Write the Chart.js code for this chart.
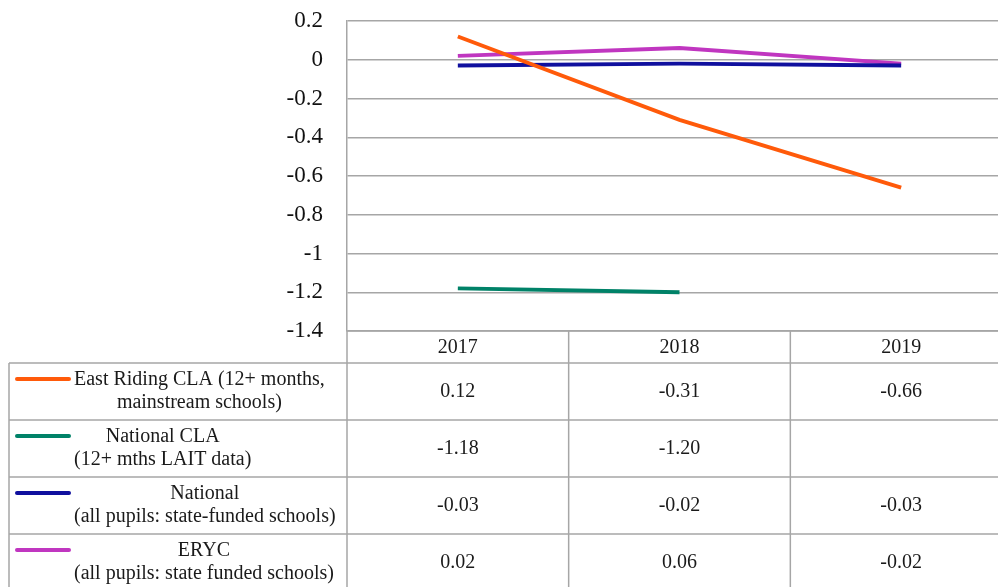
<!DOCTYPE html>
<html>
<head>
<meta charset="utf-8">
<script src="https://cdn.jsdelivr.net/npm/chart.js@4/dist/chart.umd.min.js"></script>
<style>
  html, body { margin: 0; padding: 0; background: #fff; overflow: hidden; }
  #wrap { width: 998px; height: 587px; overflow: hidden; position: relative; }
  canvas { display: block; }
</style>
</head>
<body>
<div id="wrap"><canvas id="chart" width="1012" height="587" style="width:1012px;height:587px"></canvas></div>
<script>
// Years along the category axis
const years = ['2017', '2018', '2019'];

// Series values (null = no figure published)
const eastRidingCla = [0.12, -0.31, -0.66];
const nationalCla   = [-1.18, -1.20, null];
const nationalAll   = [-0.03, -0.02, -0.03];
const erycAll       = [0.02, 0.06, -0.02];

// Series names as printed in the data table (one entry per wrapped line)
const eastRidingLabel = ['East Riding CLA (12+ months,', 'mainstream schools)'];
const nationalClaLabel = ['National CLA', '(12+ mths LAIT data)'];
const nationalLabel = ['National', '(all pupils: state-funded schools)'];
const erycLabel = ['ERYC', '(all pupils: state funded schools)'];

// Value axis ticks
const yMin = -1.4, yMax = 0.2, yStep = 0.2;

const FONT = '"Liberation Serif", "DejaVu Serif", serif';
const GRID = '#a6a6a6';

const seriesDefs = [
  { data: eastRidingCla, label: eastRidingLabel, color: '#ff5a0a' },
  { data: nationalCla,   label: nationalClaLabel, color: '#008268' },
  { data: nationalAll,   label: nationalLabel,    color: '#10109e' },
  { data: erycAll,       label: erycLabel,        color: '#c036c0' }
];

// Data table drawn beneath the plot, aligned with the category columns
const dataTable = {
  id: 'dataTable',
  afterDraw(chart) {
    const { ctx, chartArea: a, scales: { x } } = chart;
    const n = years.length;
    const colW = (a.right - a.left) / n;
    const headTop = a.bottom;
    const headBot = headTop + 32;
    const rowH = 57;
    const tableLeft = 9;
    const tableBot = headBot + rowH * seriesDefs.length;

    ctx.save();
    ctx.strokeStyle = GRID;
    ctx.lineWidth = 1.5;

    const hline = (x1, x2, y) => { ctx.beginPath(); ctx.moveTo(x1, y); ctx.lineTo(x2, y); ctx.stroke(); };
    const vline = (xx, y1, y2) => { ctx.beginPath(); ctx.moveTo(xx, y1); ctx.lineTo(xx, y2); ctx.stroke(); };

    // horizontal rules
    hline(a.left, a.right, headTop);
    for (let r = 0; r <= seriesDefs.length; r++) {
      hline(tableLeft, a.right, headBot + r * rowH);
    }
    // vertical rules
    vline(tableLeft, headBot, tableBot);
    for (let c = 0; c <= n; c++) {
      vline(a.left + c * colW, headTop, tableBot);
    }

    ctx.fillStyle = '#1a1a1a';
    ctx.textAlign = 'center';
    ctx.textBaseline = 'middle';
    ctx.font = '20px ' + FONT;

    // header
    years.forEach((yr, i) => {
      ctx.fillText(yr, x.getPixelForValue(i), (headTop + headBot) / 2 + 1);
    });

    // rows
    seriesDefs.forEach((s, r) => {
      const top = headBot + r * rowH;
      // legend key
      ctx.strokeStyle = s.color;
      ctx.lineWidth = 4;
      ctx.lineCap = 'round';
      hline(17, 69, top + 16);
      ctx.lineCap = 'butt';

      // wrapped name, lines centred on the widest line
      const widths = s.label.map(t => ctx.measureText(t).width);
      const blockW = Math.max(...widths);
      const cx = 74 + blockW / 2;
      s.label.forEach((t, k) => {
        ctx.fillText(t, cx, top + 17 + k * 23);
      });

      // values
      s.data.forEach((v, i) => {
        if (v === null) return;
        ctx.fillText(v.toFixed(2), x.getPixelForValue(i), top + 29);
      });
    });
    ctx.restore();
  }
};

new Chart(document.getElementById('chart'), {
  type: 'line',
  data: {
    labels: years,
    datasets: seriesDefs.map(s => ({
      label: s.label.join(' '),
      data: s.data,
      borderColor: s.color,
      backgroundColor: s.color,
      borderWidth: 4,
      pointRadius: 0,
      pointHoverRadius: 0,
      tension: 0,
      spanGaps: false,
      fill: false
    }))
  },
  options: {
    responsive: false,
    animation: false,
    events: [],
    layout: { padding: { left: 0, right: 0, top: 21, bottom: 256 } },
    plugins: {
      legend: { display: false },
      tooltip: { enabled: false },
      title: { display: false }
    },
    scales: {
      x: {
        type: 'category',
        offset: true,
        display: false
      },
      y: {
        min: yMin,
        max: yMax,
        afterFit(scale) {
          scale.width = 347;
          scale.paddingTop = 0;
          scale.paddingBottom = 0;
        },
        ticks: {
          stepSize: yStep,
          padding: 24,
          color: '#111',
          font: { family: FONT, size: 23 },
          callback: v => {
            const r = Math.round(v * 10) / 10;
            return r === 0 ? '0' : String(r);
          }
        },
        grid: {
          color: GRID,
          lineWidth: 1.5,
          drawTicks: false
        },
        border: { display: true, color: GRID, width: 1.5 }
      }
    }
  },
  plugins: [dataTable]
});
</script>
</body>
</html>
